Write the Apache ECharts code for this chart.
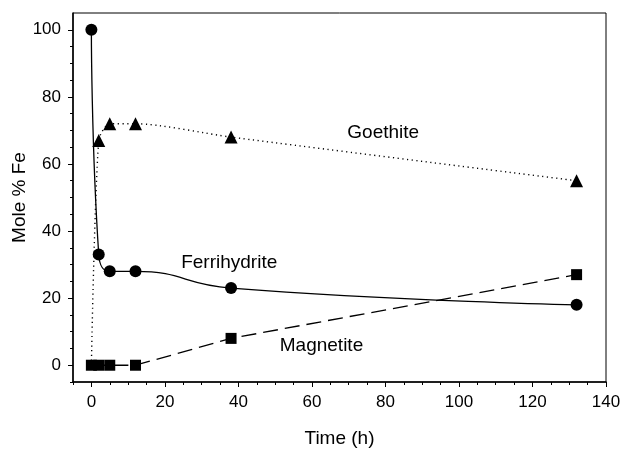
<!DOCTYPE html>
<html>
<head>
<meta charset="utf-8">
<script src="https://cdn.jsdelivr.net/npm/echarts@6/dist/echarts.min.js"></script>
<style>
  html, body { margin: 0; padding: 0; background: #fff; }
  #chart { width: 622px; height: 451px; }
</style>
</head>
<body>
<div id="chart"></div>
<script>
// time (h) and mole % Fe for each mineral
const ferriTime = [0, 2, 5, 12, 38, 132];
const ferriVals = [100, 33, 28, 28, 23, 18];
const goeTime = [0, 2, 5, 12, 38, 132];
const goeVals = [0, 67, 72, 72, 68, 55];
const magTime = [0, 2, 5, 12, 38, 132];
const magVals = [0, 0, 0, 0, 8, 27];

// axis ticks
const xMajor = [0, 20, 40, 60, 80, 100, 120, 140];
const xMinor = [-5, 5, 10, 15, 25, 30, 35, 45, 50, 55, 65, 70, 75, 85, 90, 95, 105, 110, 115, 125, 130, 135];
const yMajor = [0, 20, 40, 60, 80, 100];
const yMinor = [-5, 5, 10, 15, 25, 30, 35, 45, 50, 55, 65, 70, 75, 85, 90, 95];

// curve labels in data coordinates
const curveLabels = [
  ['Goethite', 79.4, 69.2],
  ['Ferrihydrite', 37.5, 30.5],
  ['Magnetite', 62.6, 5.7]
];

const font = 'Liberation Sans, Arial, sans-serif';
const pairs = (xs, ys) => xs.map((x, i) => [x, ys[i]]);

const chart = echarts.init(document.getElementById('chart'));

const xBase = {
  type: 'value', min: -5, max: 140, position: 'bottom',
  splitLine: { show: false }
};
const yBase = {
  type: 'value', min: -5, max: 105, position: 'left',
  splitLine: { show: false }
};

chart.setOption({
  animation: false,
  backgroundColor: '#fff',
  grid: {
    left: 73, right: 16, top: 13, bottom: 69,
    containLabel: false, outerBoundsMode: 'none',
    show: true, borderColor: '#000', borderWidth: 1
  },
  xAxis: [
    Object.assign({}, xBase, {
      name: 'Time (h)', nameLocation: 'middle', nameGap: 47, nameMoveOverlap: false,
      nameTextStyle: { fontFamily: font, fontSize: 19, color: '#000' },
      axisLine: { onZero: false, lineStyle: { color: '#000', width: 1.5 } },
      axisTick: { customValues: xMajor, length: 5, lineStyle: { color: '#000', width: 1 } },
      axisLabel: { customValues: xMajor, margin: 12, fontFamily: font, fontSize: 17, color: '#000' }
    }),
    Object.assign({}, xBase, {
      axisLine: { show: false, onZero: false },
      axisTick: { customValues: xMinor, length: 3, lineStyle: { color: '#000', width: 1 } },
      axisLabel: { show: false }
    })
  ],
  yAxis: [
    Object.assign({}, yBase, {
      name: 'Mole % Fe', nameLocation: 'middle', nameGap: 44, nameMoveOverlap: false,
      nameTextStyle: { fontFamily: font, fontSize: 19, color: '#000' },
      axisLine: { onZero: false, lineStyle: { color: '#000', width: 1.5 } },
      axisTick: { customValues: yMajor, length: 5, lineStyle: { color: '#000', width: 1 } },
      axisLabel: { customValues: yMajor, margin: 12, fontFamily: font, fontSize: 17, color: '#000' }
    }),
    Object.assign({}, yBase, {
      axisLine: { show: false, onZero: false },
      axisTick: { customValues: yMinor, length: 3, lineStyle: { color: '#000', width: 1 } },
      axisLabel: { show: false }
    })
  ],
  series: [
    {
      name: 'Goethite', type: 'line', smooth: 0.25,
      data: pairs(goeTime, goeVals).map((p, i) => i === 0 ? { value: p, symbol: 'none' } : p),
      symbol: 'triangle', symbolSize: 13,
      itemStyle: { color: '#000' },
      lineStyle: { color: '#000', width: 1.4, type: [1.2, 3.5] },
      z: 3
    },
    {
      name: 'Magnetite', type: 'line', smooth: false,
      data: pairs(magTime, magVals),
      symbol: 'rect', symbolSize: 11,
      itemStyle: { color: '#000' },
      lineStyle: { color: '#000', width: 1.3, type: [15, 7] },
      z: 4
    },
    {
      name: 'Ferrihydrite', type: 'line', smooth: 0.5,
      data: pairs(ferriTime, ferriVals),
      symbol: 'circle', symbolSize: 12,
      itemStyle: { color: '#000' },
      lineStyle: { color: '#000', width: 1.3 },
      z: 5
    },
    {
      name: 'labels', type: 'scatter', symbol: 'circle', symbolSize: 0,
      data: curveLabels.map(l => ({ name: l[0], value: [l[1], l[2]] })),
      itemStyle: { opacity: 1 },
      label: {
        show: true, position: 'inside', formatter: p => p.name,
        fontFamily: font, fontSize: 19, color: '#000', opacity: 1,
        textBorderWidth: 0
      },
      silent: true
    }
  ]
});
</script>
</body>
</html>
